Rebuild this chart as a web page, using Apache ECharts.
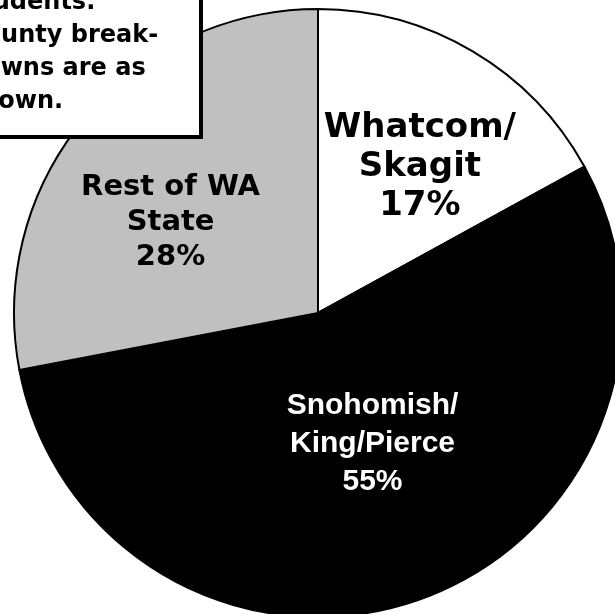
<!DOCTYPE html>
<html>
<head>
<meta charset="utf-8">
<style>
  html, body { margin: 0; padding: 0; background: #fff; }
  #chart { width: 615px; height: 614px; }
</style>
<script src="https://cdn.jsdelivr.net/npm/echarts@6/dist/echarts.min.js"></script>
</head>
<body>
<div id="chart"></div>
<script>
  // regions and share of students (%)
  const regions = ['Whatcom/\nSkagit', 'Snohomish/\nKing/Pierce', 'Rest of WA\nState'];
  const shares = [17, 55, 28];
  const sliceColors = ['#ffffff', '#000000', '#c0c0c0'];
  const noteLines = ['students.', 'County break-', 'downs are as', 'shown.'];

  // label look per slice
  const labelStyles = [
    { color: '#000', fontFamily: 'DejaVu Sans', fontSize: 34, lineHeight: 39 },
    { color: '#fff', fontFamily: 'Liberation Sans', fontSize: 30, lineHeight: 38 },
    { color: '#000', fontFamily: 'DejaVu Sans', fontSize: 29, lineHeight: 35 }
  ];
  const labelShift = [[23, -12], [2, -15], [-28, 8]];

  let chart = echarts.init(document.getElementById('chart'));
  chart.setOption({
    backgroundColor: '#fff',
    animation: false,
    series: [{
      type: 'pie',
      center: [318, 313],
      radius: [0, 304],
      startAngle: 90,
      clockwise: true,
      silent: true,
      itemStyle: {
        borderColor: '#000',
        borderWidth: 2
      },
      label: {
        show: true,
        position: 'inside',
        fontWeight: 'bold',
        formatter: '{b}\n{c}%'
      },
      labelLine: { show: false },
      labelLayout: function (params) {
        let s = labelShift[params.dataIndex];
        return { dx: s[0], dy: s[1] };
      },
      data: regions.map(function (name, i) {
        return {
          name: name,
          value: shares[i],
          itemStyle: { color: sliceColors[i] },
          label: labelStyles[i]
        };
      })
    }],
    graphic: [{
      type: 'rect',
      z: 100,
      shape: { x: -10, y: -10, width: 211, height: 147 },
      style: { fill: '#fff', stroke: '#000', lineWidth: 4 }
    }, {
      type: 'text',
      z: 101,
      left: -33,
      top: -14,
      style: {
        text: noteLines.join('\n'),
        fill: '#000',
        font: 'bold 24px "DejaVu Sans"',
        lineHeight: 33
      }
    }]
  });
</script>
</body>
</html>
